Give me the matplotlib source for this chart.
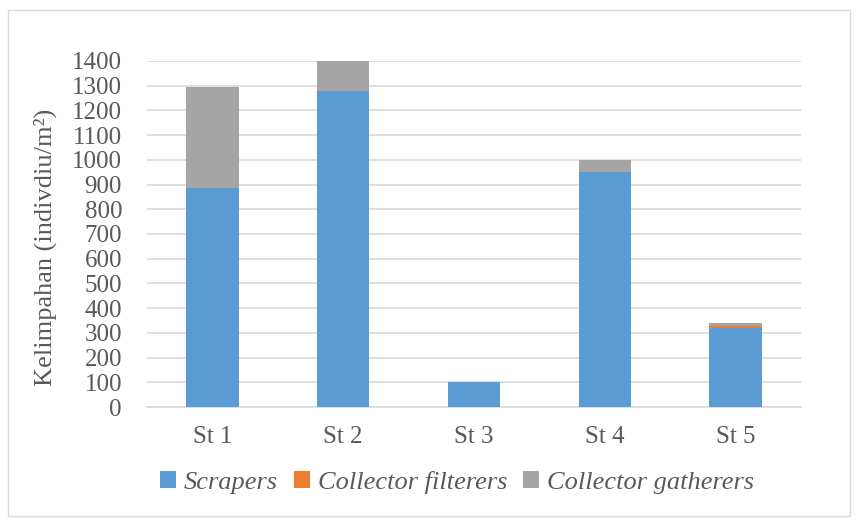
import matplotlib.pyplot as plt
from matplotlib.patches import Rectangle

stasiun = ["St 1", "St 2", "St 3", "St 4", "St 5"]
scrapers = [888, 1278, 102, 952, 318]
collector_filterers = [0, 0, 0, 0, 10]
collector_gatherers = [405, 122, 0, 48, 10]

plt.rcParams['font.family'] = ['Liberation Serif', 'DejaVu Serif']

fig = plt.figure(figsize=(8.6, 5.24), dpi=100)
ax = fig.add_axes([147/860, 1-407/524, (801-147)/860, (407-61)/524])

# border of the chart area
fig.patches.append(Rectangle((8/860, 8/524), 842/860, 506/524, transform=fig.transFigure,
                             fill=False, edgecolor="#d9d9d9", lw=1))

x = range(len(stasiun))
bottom2 = [a + b for a, b in zip(scrapers, collector_filterers)]
ax.bar(x, scrapers, width=0.4, color="#5b9bd5", label="Scrapers", zorder=3)
ax.bar(x, collector_filterers, width=0.4, bottom=scrapers, color="#ed7d31",
       label="Collector filterers", zorder=3)
ax.bar(x, collector_gatherers, width=0.4, bottom=bottom2, color="#a5a5a5",
       label="Collector gatherers", zorder=3)

ax.set_xlim(-0.5, 4.5)
ax.set_ylim(0, 1400)
ax.set_yticks(range(0, 1401, 100))
ax.set_xticks(list(x))
ax.set_xticklabels(stasiun)
ax.grid(axis="y", color="#d9d9d9", lw=1.2, zorder=0)
for s in ["top", "right", "left"]:
    ax.spines[s].set_visible(False)
ax.spines["bottom"].set_color("#d9d9d9")
ax.spines["bottom"].set_linewidth(1.2)
ax.tick_params(axis="both", length=0, labelsize=18, labelcolor="#595959")
ax.tick_params(axis="y", pad=18)
ax.tick_params(axis="x", pad=14)
ax.set_ylabel("Kelimpahan (indivdiu/m²)", fontsize=19, color="#595959")
ax.yaxis.set_label_coords(-0.138, 0.46)

leg = ax.legend(loc="upper center", bbox_to_anchor=(0.474, -0.115), ncol=3, frameon=False,
                prop={"style": "italic", "size": 19}, handlelength=0.6, handleheight=0.6,
                handletextpad=0.3, columnspacing=0.6)
for t in leg.get_texts():
    t.set_color("#595959")

fig.savefig("out.png", dpi=100)
